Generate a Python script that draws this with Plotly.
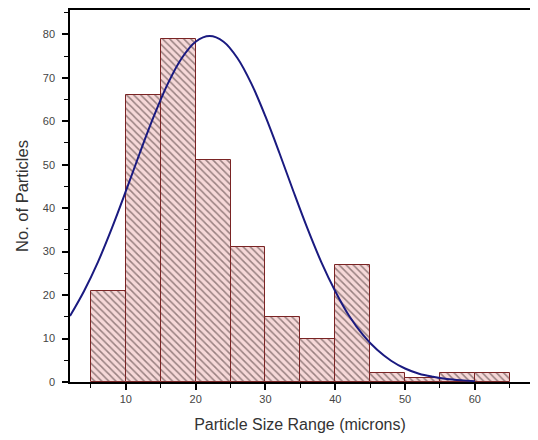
import plotly.graph_objects as go

# Histogram bins (microns) and counts
bin_centers = [7.5, 12.5, 17.5, 22.5, 27.5, 32.5, 37.5, 42.5, 47.5, 52.5, 57.5, 62.5]
bin_counts = [21, 66, 79, 51, 31, 15, 10, 27, 2, 1, 2, 2]

# Fitted curve points
curve_x = [2, 4, 6, 8, 10, 12, 14, 16, 18, 20, 22, 24, 26, 28, 30, 32, 34, 36, 38,
           40, 42, 44, 46, 48, 50, 52, 54, 56, 58, 60]
curve_y = [15.2, 20.9, 27.6, 35.4, 43.9, 52.7, 61.1, 68.6, 74.5, 78.3, 79.6, 78.3,
           74.5, 68.6, 61.1, 52.7, 43.9, 35.4, 27.6, 20.9, 15.2, 10.8, 7.4, 4.9,
           3.1, 1.9, 1.2, 0.7, 0.4, 0.2]

x_ticks = [10, 20, 30, 40, 50, 60]
y_ticks = [0, 10, 20, 30, 40, 50, 60, 70, 80]

fig = go.Figure()
fig.add_trace(go.Bar(
    x=bin_centers, y=bin_counts, width=5,
    marker=dict(
        color="#f6d8d8",
        line=dict(color="#7a2424", width=1),
        pattern=dict(shape="\\", fgcolor="#3a2828", bgcolor="#f6d8d8",
                     size=5, solidity=0.3, fillmode="overlay"),
    ),
    showlegend=False,
))
fig.add_trace(go.Scatter(
    x=curve_x, y=curve_y, mode="lines", line=dict(color="#1a1a80", width=2, shape="spline"),
    showlegend=False,
))

axis_font = dict(family="Liberation Sans, Arial, sans-serif", size=11, color="#444")
fig.update_layout(
    width=530, height=432,
    margin=dict(l=62, r=8, t=0, b=58),
    paper_bgcolor="white", plot_bgcolor="white",
    bargap=0,
    font=dict(family="Liberation Sans, Arial, sans-serif", color="#333"),
    xaxis=dict(range=[2, 67.9], tickvals=x_ticks, showgrid=False, zeroline=False,
               showline=True, linecolor="black", linewidth=1.5, mirror=True,
               ticks="outside", ticklen=6, tickwidth=1.5, tickcolor="black",
               minor=dict(ticks="outside", dtick=5, tick0=0, ticklen=4, tickcolor="black", tickwidth=1),
               tickfont=axis_font,
               title=dict(text="Particle Size Range (microns)", font=dict(size=16, color="#333"), standoff=15)),
    yaxis=dict(range=[0, 85.6], tickvals=y_ticks, showgrid=False, zeroline=False,
               showline=True, linecolor="black", linewidth=1.5, mirror=True,
               ticks="outside", ticklen=6, tickwidth=1.5, tickcolor="black",
               minor=dict(ticks="outside", dtick=5, tick0=0, ticklen=4, tickcolor="black", tickwidth=1),
               tickfont=axis_font, ticklabelstandoff=5,
               title=dict(text="No. of Particles", font=dict(size=16.5, color="#333"), standoff=10)),
)

fig.write_html("out.html")
